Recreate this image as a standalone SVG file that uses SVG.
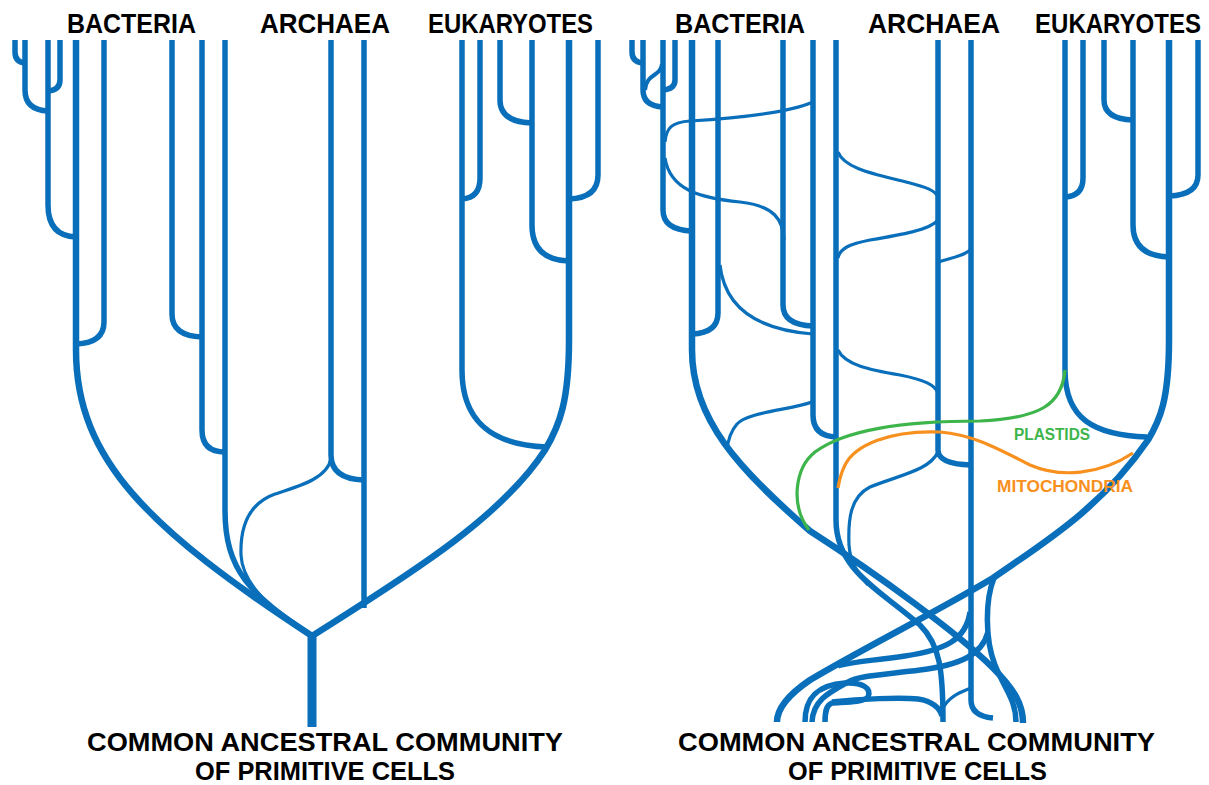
<svg xmlns="http://www.w3.org/2000/svg" width="1209" height="785" viewBox="0 0 1209 785">
<style>
.b{fill:none;stroke:#0a6fba;stroke-width:5.5;stroke-linecap:butt;stroke-linejoin:round}
.o{stroke-width:6.5}
.t{stroke-width:3.2}
.g{fill:none;stroke:#3db54a;stroke-width:3.2}
.m{fill:none;stroke:#f7901e;stroke-width:3.2}
.h{font-family:"Liberation Sans",Arial,sans-serif;font-weight:bold;font-size:24px;fill:#000}
.lab{font-family:"Liberation Sans",Arial,sans-serif;font-weight:bold;font-size:16px}
</style>
<rect width="1209" height="785" fill="#fff"/>
<g id="left-tree">
<g id="connectors-left">
<path class="b" d="M15,40 V52 Q15,62 25,63"/>
<path class="b" d="M25,40 V90 Q25,110 48,111"/>
<path class="b" d="M60,40 V80 Q60,90 48,91"/>
<path class="b" d="M48,40 V205 Q48,236 76,237"/>
<path class="b" d="M104,40 V322 Q104,343 76,344"/>
<path class="b o" d="M76,40 V350 C76,460 150,530 312,636"/>
<path class="b" d="M172,40 V314 Q172,336 202,337"/>
<path class="b" d="M202,40 V430 Q202,452 225,452"/>
<path class="b" d="M225,40 V510 C225,570 250,595 312,636"/>
<path class="b t" d="M331,458 C328,478 300,486 275,494 C250,503 240,525 241,555 C242,580 265,605 300,628"/>
<path class="b" d="M331,40 V455 Q331,479 364,480"/>
<path class="b" d="M364,40 V608"/>
<path class="b o" d="M569,40 V340 C569,400 560,425 545,450 C500,520 400,580 312,636"/>
<path class="b" d="M462,40 V370 C462,420 490,445 547,447"/>
<path class="b" d="M480,40 V178 Q480,198 462,199"/>
<path class="b" d="M500,40 V100 Q500,122 532,123"/>
<path class="b" d="M532,40 V225 Q532,260 569,261"/>
<path class="b" d="M598,40 V175 Q598,198 569,199"/>
<path class="b" style="stroke-width:9" d="M312,634 V727"/>
</g>
<g id="labels-left">
<text class="h" transform="translate(67,33) scale(1,1.17)" textLength="129" lengthAdjust="spacingAndGlyphs">BACTERIA</text>
<text class="h" transform="translate(260,33) scale(1,1.17)" textLength="130" lengthAdjust="spacingAndGlyphs">ARCHAEA</text>
<text class="h" transform="translate(428,33) scale(1,1.17)" textLength="165" lengthAdjust="spacingAndGlyphs">EUKARYOTES</text>
<text class="h" transform="translate(87,750.5) scale(1,1.1)" textLength="476" lengthAdjust="spacingAndGlyphs">COMMON ANCESTRAL COMMUNITY</text>
<text class="h" transform="translate(195,779.5) scale(1,1.05)" textLength="260" lengthAdjust="spacingAndGlyphs">OF PRIMITIVE CELLS</text>
</g>
</g>
<g id="right-tree">
<g id="connectors-right">
<path class="b" d="M632,40 V52 Q632,62 643,63"/>
<path class="b" d="M643,40 V90 Q643,106 663,107"/>
<path class="b t" style="stroke-width:4" d="M645,90 C647,72 660,78 662,64"/>
<path class="b" d="M675,40 V80 Q675,89 663,90"/>
<path class="b" d="M663,40 V210 Q663,230 692,231"/>
<path class="b t" d="M813,102 C790,112 740,118 690,121 C672,122 666,128 665,142"/>
<path class="b t" d="M665,158 C670,190 700,198 740,202 C775,206 783,220 784,240"/>
<path class="b" d="M718,40 V313 Q718,333 692,334"/>
<path class="b t" d="M720,265 C725,310 760,330 813,334"/>
<path class="b" d="M783,40 V305 Q783,325 813,326"/>
<path class="b" d="M813,40 V415 Q813,436 836,437"/>
<path class="b t" d="M812,402 C790,410 748,412 737,424 C730,432 728,440 727,450"/>
<path class="b t" d="M838,350 C845,365 870,370 900,375 C925,380 935,385 938,393"/>
<path class="b o" d="M692,40 V350 C692,420 740,470 810,531 C880,576 960,635 993,668 C1015,690 1023,705 1023,723"/>
<path class="b" d="M836,40 V520 C836,570 880,590 920,625 C940,645 943,670 943,722"/>
<path class="b t" d="M938,452 C930,470 900,475 870,487 C850,497 848,520 849,545 C850,560 855,570 868,585"/>
<path class="b" d="M938,40 V450 Q938,464 971,465"/>
<path class="b t" d="M838,152 C845,170 880,175 910,183 C925,187 935,190 938,197"/>
<path class="b t" d="M938,220 C930,230 900,235 870,240 C850,244 840,248 838,258"/>
<path class="b t" d="M939,262 C950,258 965,256 971,249"/>
<path class="b" d="M971,40 V700 Q971,716 993,718"/>
<path class="b" d="M1065,40 V370 C1065,420 1095,435 1147,437"/>
<path class="b" d="M1083,40 V178 Q1083,196 1065,197"/>
<path class="b" d="M1104,40 V100 Q1104,119 1133,120"/>
<path class="b" d="M1133,40 V225 Q1133,256 1169,257"/>
<path class="b" d="M1198,40 V175 Q1198,195 1169,196"/>
<path class="b o" d="M1169,40 V340 C1169,400 1160,420 1148,440 C1100,510 1040,545 993,578 C940,610 860,650 810,680 C785,697 777,710 777,722"/>
<path class="b" d="M994,578 C985,600 985,640 995,665 C1005,690 1016,700 1016,722"/>
<path class="b" d="M970,612 C966,640 945,650 905,656 C870,661 850,662 838,666"/>
<path class="b" d="M988,632 C982,655 960,665 920,670 C880,675 858,676 848,682 C830,692 813,700 812,722"/>
<path class="b" d="M805,722 C805,700 815,685 845,683 C862,682 872,688 868,697 C864,703 840,702 832,703 C826,705 825,712 825,722"/>
<path class="b" d="M832,702 C860,699 900,697 918,699 C932,701 940,708 942,716"/>
<path class="b t" d="M943,708 C950,695 962,692 971,688"/>
<path class="g" d="M1065,370 C1062,405 1040,418 980,421 C900,421 845,430 815,452 C795,468 790,505 809,530"/>
<path class="m" d="M1133,453 C1100,475 1060,478 1030,465 C1000,450 975,435 940,432 C890,430 855,445 845,465 C840,475 839,482 838,488"/>
</g>
<g id="labels-right">
<text class="h" transform="translate(675,33) scale(1,1.17)" textLength="130" lengthAdjust="spacingAndGlyphs">BACTERIA</text>
<text class="h" transform="translate(868,33) scale(1,1.17)" textLength="132" lengthAdjust="spacingAndGlyphs">ARCHAEA</text>
<text class="h" transform="translate(1035,33) scale(1,1.17)" textLength="166" lengthAdjust="spacingAndGlyphs">EUKARYOTES</text>
<text class="h" transform="translate(678,750.5) scale(1,1.1)" textLength="477" lengthAdjust="spacingAndGlyphs">COMMON ANCESTRAL COMMUNITY</text>
<text class="h" transform="translate(788,779.5) scale(1,1.05)" textLength="259" lengthAdjust="spacingAndGlyphs">OF PRIMITIVE CELLS</text>
<text class="lab" x="1014" y="440" fill="#3db54a" textLength="76" lengthAdjust="spacingAndGlyphs">PLASTIDS</text>
<text class="lab" x="997" y="492" fill="#f7901e" textLength="136" lengthAdjust="spacingAndGlyphs">MITOCHONDRIA</text>
</g>
</g>
</svg>
